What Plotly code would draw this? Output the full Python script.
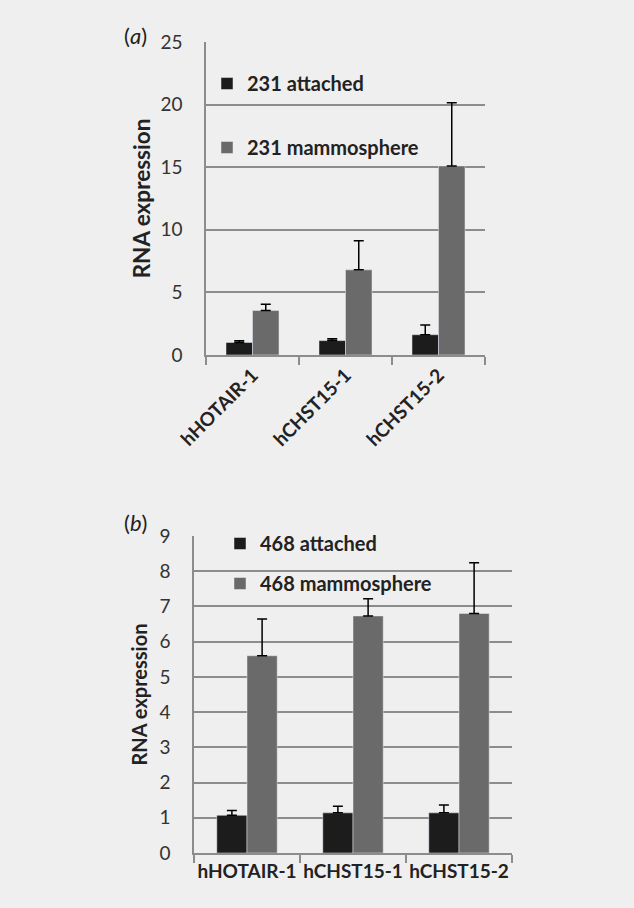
import plotly.graph_objects as go

categories = ["hHOTAIR-1", "hCHST15-1", "hCHST15-2"]

# Panel (a)
a_attached = [1.0, 1.15, 1.62]
a_attached_err = [0.13, 0.15, 0.78]
a_mammo = [3.55, 6.8, 15.1]
a_mammo_err = [0.5, 2.33, 5.05]

# Panel (b)
b_attached = [1.07, 1.14, 1.14]
b_attached_err = [0.14, 0.19, 0.22]
b_mammo = [5.6, 6.73, 6.8]
b_mammo_err = [1.04, 0.49, 1.44]

W, H = 634, 908
BLACK = "#1c1c1c"
GRAY = "#6a6a6a"
GRID = "#8c8c8c"
BG = "#efefef"
REG = "Lato"


def px_x(x):
    return x / W


def px_y(y):
    return 1 - y / H


fig = go.Figure()


def err(arr):
    return dict(type="data", array=arr, arrayminus=[0] * len(arr), symmetric=False,
                color="black", thickness=1.5, width=5, visible=True)


fig.add_trace(go.Bar(x=categories, y=a_attached, name="231 attached", marker_color=BLACK,
                     error_y=err(a_attached_err), xaxis="x", yaxis="y",
                     legend="legend", legendgroup="a1"))
fig.add_trace(go.Bar(x=categories, y=a_mammo, name="231 mammosphere", marker_color=GRAY,
                     error_y=err(a_mammo_err), xaxis="x", yaxis="y",
                     legend="legend", legendgroup="a2"))
fig.add_trace(go.Bar(x=categories, y=b_attached, name="468 attached", marker_color=BLACK,
                     error_y=err(b_attached_err), xaxis="x2", yaxis="y2",
                     legend="legend2", legendgroup="b1"))
fig.add_trace(go.Bar(x=categories, y=b_mammo, name="468 mammosphere", marker_color=GRAY,
                     error_y=err(b_mammo_err), xaxis="x2", yaxis="y2",
                     legend="legend2", legendgroup="b2"))

tick_font = dict(family=REG, size=19, color="#333333")
cat_font = dict(family="Lato", size=19, color="#222222", weight="bold")
leg_font = dict(family="Lato", size=20, color="#222222", weight="bold")

common_x = dict(type="category", showline=True, linecolor=GRID, linewidth=1.5,
                ticks="outside", tickson="boundaries", ticklen=8, tickcolor=GRID,
                tickwidth=1.5, showgrid=False, tickfont=cat_font, automargin=False)
common_y = dict(showline=True, linecolor=GRID, linewidth=1.5, showgrid=True,
                gridcolor=GRID, gridwidth=1.5, zeroline=False, ticks="",
                tickfont=tick_font, ticklabelstandoff=18, automargin=False)

fig.update_layout(
    width=W, height=H,
    margin=dict(l=0, r=0, t=0, b=0, autoexpand=False),
    paper_bgcolor=BG, plot_bgcolor=BG,
    barmode="group", bargap=0.43, bargroupgap=0,
    xaxis=dict(domain=[px_x(206), px_x(485)], anchor="y", tickangle=-45, **common_x),
    yaxis=dict(domain=[px_y(355), px_y(42)], anchor="x", range=[0, 25], dtick=5,
               title=dict(text="RNA expression", standoff=4,
                          font=dict(family="Lato", size=22.5, color="#222222", weight="bold")),
               **common_y),
    xaxis2=dict(domain=[px_x(194), px_x(512)], anchor="y2", tickangle=0, **common_x),
    yaxis2=dict(domain=[px_y(853), px_y(536)], anchor="x2", range=[0, 9], dtick=1,
                title=dict(text="RNA expression", standoff=6,
                           font=dict(family="Lato", size=20, color="#222222", weight="bold")),
                **common_y),
    legend=dict(x=px_x(207), y=px_y(64), xanchor="left", yanchor="top",
                bgcolor="rgba(0,0,0,0)", font=leg_font, tracegroupgap=35,
                traceorder="grouped", itemwidth=30),
    legend2=dict(x=px_x(220), y=px_y(524), xanchor="left", yanchor="top",
                 bgcolor="rgba(0,0,0,0)", font=leg_font, tracegroupgap=11,
                 traceorder="grouped", itemwidth=30),
    annotations=[
        dict(text="(<i>a</i>)", x=px_x(122), y=px_y(35), xref="paper", yref="paper",
             xanchor="left", yanchor="middle", showarrow=False,
             font=dict(family=REG, size=22, color="#222222")),
        dict(text="(<i>b</i>)", x=px_x(122), y=px_y(522), xref="paper", yref="paper",
             xanchor="left", yanchor="middle", showarrow=False,
             font=dict(family=REG, size=22, color="#222222")),
    ],
)

fig.write_html("out.html", config={"displayModeBar": False},
               post_script="document.body.style.margin='0';document.body.style.overflow='hidden';")
